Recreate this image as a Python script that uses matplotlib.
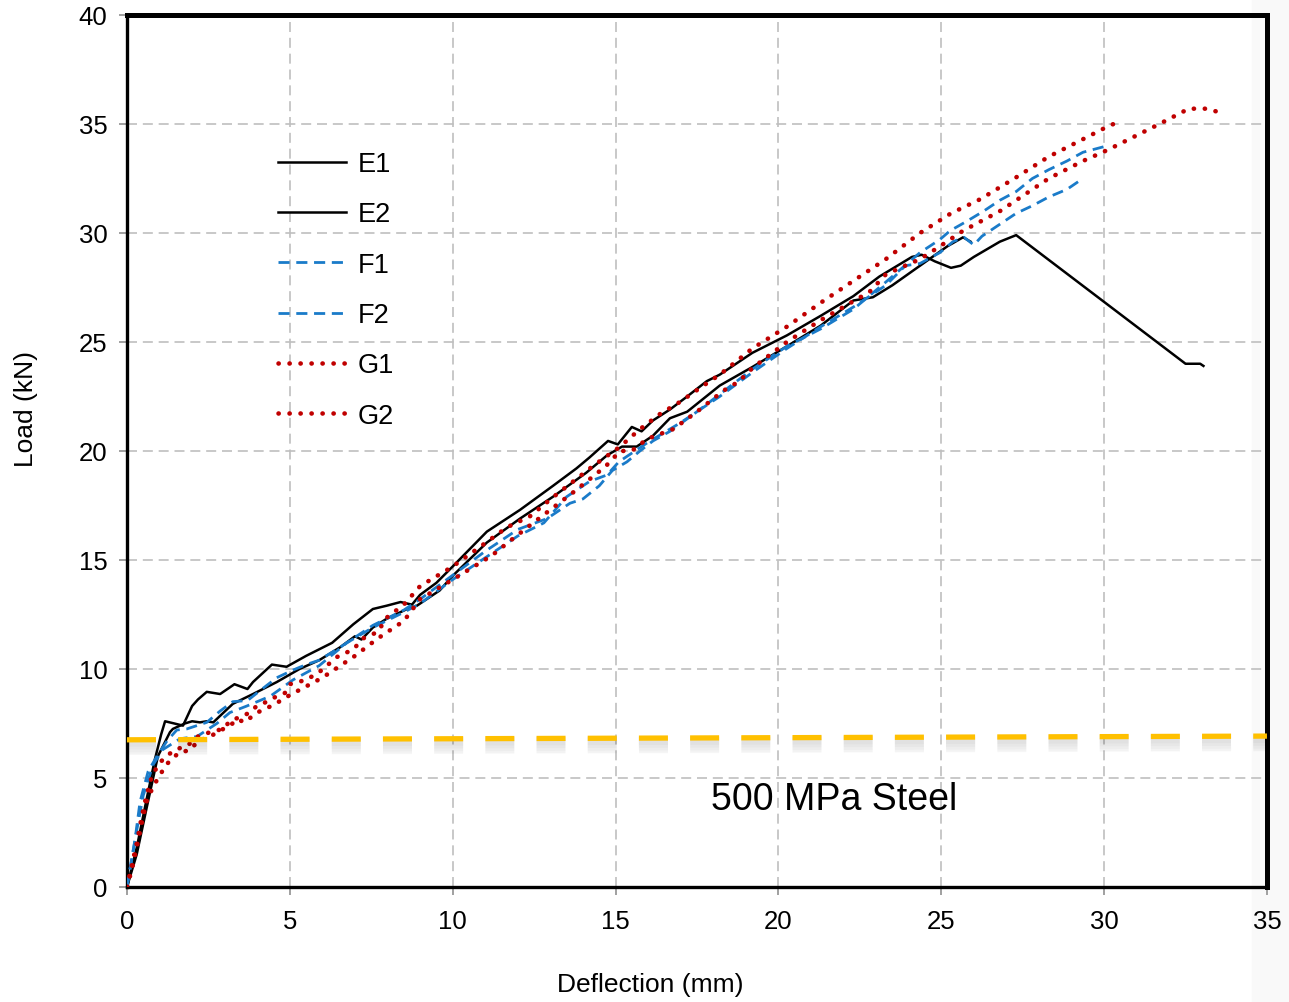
import matplotlib
matplotlib.use('Agg')
import matplotlib.pyplot as plt
from matplotlib import patheffects
from matplotlib.patches import Rectangle

plt.rcParams['font.family'] = ['Liberation Sans', 'DejaVu Sans']

# load-deflection records, deflection in mm, load in kN
e1_x = [0, 0.3, 0.6, 0.86, 1.05, 1.17, 1.45, 1.72, 2.0, 2.18, 2.45, 2.86, 3.3, 3.7, 3.87,
        4.45, 4.9, 5.5, 6.3, 6.95, 7.55, 7.97, 8.4, 8.75, 9.0, 9.5, 10.0, 11.05, 12.07,
        13.08, 13.8, 14.2, 14.77, 15.07, 15.5, 15.8, 16.15, 16.67, 17.2, 17.8, 18.2, 19.2,
        20.26, 21.3, 22.3, 23.1, 24.1, 24.4, 24.8, 25.3, 25.6, 26.0, 26.8, 27.3, 32.5,
        32.95, 33.05]
e1_y = [0, 1.8, 4.0, 5.87, 7.0, 7.6, 7.5, 7.4, 8.3, 8.6, 8.95, 8.85, 9.3, 9.08, 9.4,
        10.2, 10.1, 10.6, 11.2, 12.05, 12.75, 12.9, 13.07, 12.95, 13.4, 13.95, 14.7, 16.3,
        17.3, 18.4, 19.2, 19.7, 20.46, 20.3, 21.1, 20.9, 21.4, 21.9, 22.5, 23.2, 23.5, 24.5,
        25.3, 26.2, 27.1, 28.0, 28.9, 29.0, 28.7, 28.4, 28.5, 28.9, 29.6, 29.9, 24.0,
        24.0, 23.9]

e2_x = [0, 0.3, 0.6, 0.95, 1.32, 1.41, 1.78, 2.0, 2.24, 2.45, 2.65, 2.86, 3.25, 3.87, 4.6,
        5.3, 5.9, 6.55, 7.0, 7.2, 7.55, 7.97, 8.6, 8.9, 9.6, 10.0, 11.05, 12.07, 13.08,
        14.1, 14.74, 15.2, 15.65, 16.15, 16.67, 17.2, 18.2, 19.2, 20.26, 21.3, 22.3, 22.9,
        23.5, 24.35, 25.2, 25.67, 25.9]
e2_y = [0, 1.5, 3.6, 6.0, 7.1, 7.25, 7.5, 7.6, 7.55, 7.6, 7.55, 7.85, 8.4, 8.85, 9.4,
        10.0, 10.4, 11.0, 11.5, 11.35, 11.9, 12.3, 12.75, 12.9, 13.6, 14.27, 15.8, 16.9, 17.9,
        19.0, 19.8, 20.2, 20.2, 20.7, 21.5, 21.8, 23.0, 23.85, 24.8, 25.75, 26.9, 27.05,
        27.6, 28.5, 29.4, 29.8, 29.6]

f1_x = [0, 0.25, 0.4, 0.65, 0.92, 1.23, 1.53, 1.84, 2.45, 2.86, 3.25, 3.7, 4.08, 4.6, 5.1,
        5.5, 5.9, 6.55, 6.95, 7.55, 8.5, 9.0, 10.0, 11.0, 12.0, 12.9, 13.6, 14.0, 14.5,
        14.9, 15.35, 15.75, 16.15, 16.67, 17.5, 18.2, 19.2, 20.26, 21.3, 22.3, 23.3, 24.35,
        24.96, 25.27, 25.8, 26.3, 26.8, 27.3, 27.8, 28.3, 28.86, 29.35, 30.1]
f1_y = [0, 2.2, 3.9, 5.3, 6.0, 6.7, 7.2, 7.25, 7.55, 8.07, 8.5, 8.55, 9.0, 9.6, 9.95,
        10.2, 10.4, 11.0, 11.4, 12.0, 12.7, 13.2, 14.3, 15.4, 16.4, 16.9, 17.6, 17.8, 18.4,
        19.1, 19.5, 20.0, 20.46, 20.9, 21.8, 22.6, 23.75, 24.8, 25.6, 26.5, 27.75, 29.1,
        29.7, 30.1, 30.55, 31.0, 31.5, 31.9, 32.5, 32.9, 33.3, 33.7, 34.0]

f2_x = [0, 0.3, 0.5, 0.8, 1.1, 1.63, 2.15, 2.76, 3.16, 3.68, 4.4, 5.1, 5.9, 6.75, 7.55,
        8.5, 9.0, 10.0, 11.0, 12.0, 12.8, 13.5, 14.2, 14.74, 15.1, 16.0, 17.0, 18.2, 19.2,
        20.26, 21.3, 22.3, 23.3, 23.9, 24.35, 24.96, 25.36, 25.7, 26.0, 26.25, 26.8, 27.3,
        27.8, 28.3, 28.86, 29.35]
f2_y = [0, 2.6, 4.2, 5.6, 6.3, 6.8, 6.9, 7.5, 8.0, 8.3, 8.75, 9.5, 10.15, 11.2, 11.9,
        12.6, 13.0, 14.1, 15.1, 16.1, 16.7, 17.9, 18.6, 18.9, 19.5, 20.4, 21.3, 22.5, 23.6,
        24.7, 25.7, 26.6, 27.6, 28.5, 28.6, 29.1, 29.6, 29.8, 29.45, 29.85, 30.4, 30.9,
        31.25, 31.65, 32.0, 32.5]

g1_x = [0, 0.15, 0.3, 0.45, 0.6, 0.75, 0.95, 1.2, 1.5, 1.87, 2.18, 2.55, 2.95, 3.16, 3.47,
        3.78, 3.98, 4.3, 4.6, 4.85, 5.0, 5.5, 5.9, 6.45, 6.95, 7.25, 7.7, 7.97, 8.5, 9.0,
        10.0, 10.84, 11.67, 12.37, 13.1, 13.7, 14.3, 15.14, 15.75, 16.37, 16.98, 17.7, 18.2,
        19.2, 20.26, 21.3, 22.3, 23.3, 24.35, 25.3, 26.2, 27.3, 28.3, 29.35, 29.87, 30.2,
        30.5]
g1_y = [0, 1.0, 2.0, 3.2, 4.2, 5.0, 5.6, 6.0, 6.3, 6.5, 6.9, 7.1, 7.25, 7.6, 7.8,
        8.0, 8.3, 8.5, 8.75, 8.9, 9.3, 9.5, 9.85, 10.55, 10.9, 11.4, 11.7, 12.35, 12.95, 13.8,
        14.7, 15.6, 16.5, 17.0, 17.9, 18.6, 19.3, 20.2, 21.0, 21.7, 22.25, 23.0, 23.5,
        24.7, 25.7, 26.8, 27.8, 28.8, 30.0, 30.9, 31.55, 32.55, 33.5, 34.3, 34.7, 34.95,
        35.1]

g2_x = [0, 0.15, 0.3, 0.45, 0.6, 0.8, 1.0, 1.2, 1.4, 1.63, 1.9, 2.2, 2.55, 2.9, 3.2,
        3.4, 3.6, 4.0, 4.5, 5.0, 5.5, 6.0, 6.5, 7.0, 7.7, 8.5, 9.0, 10.0, 11.2, 11.7, 12.47,
        13.7, 14.2, 14.7, 15.14, 15.5, 15.97, 16.77, 17.5, 18.3, 18.8, 19.2, 20.26, 21.3,
        22.8, 23.3, 24.35, 24.87, 25.67, 26.8, 27.3, 28.3, 29.35, 30.1, 30.9, 31.7, 32.6,
        33.15, 33.5]
g2_y = [0, 0.8, 1.8, 2.9, 3.9, 4.6, 5.1, 5.6, 5.9, 6.2, 6.25, 6.7, 6.9, 7.2, 7.45,
        7.7, 7.55, 8.0, 8.35, 8.8, 9.2, 9.6, 10.1, 10.6, 11.4, 12.2, 13.2, 14.1, 15.2, 15.8,
        16.7, 18.1, 18.7, 19.3, 20.0, 20.0, 20.55, 21.0, 21.8, 22.75, 23.2, 23.8, 25.0, 26.0,
        27.3, 28.1, 28.8, 29.3, 30.1, 31.0, 31.5, 32.5, 33.3, 33.8, 34.4, 35.0, 35.7,
        35.7, 35.55]

# yield load of the 500 MPa steel reinforcement
steel_x = [0, 35]
steel_y = [6.75, 6.92]
steel_label = '500 MPa Steel'

x_ticks = [0, 5, 10, 15, 20, 25, 30, 35]
y_ticks = [0, 5, 10, 15, 20, 25, 30, 35, 40]

BLUE = '#1a7bc9'
RED = '#c00000'

fig = plt.figure(figsize=(12.89, 10.03), dpi=100)
fig.patches.append(Rectangle((1252 / 1289, 0), 37 / 1289, 1, transform=fig.transFigure,
                             color='#f9f9f9', zorder=-10))
ax = fig.add_axes([0.0985, 0.1147, 0.8844, 0.8694])
ax.set_facecolor('none')

ax.plot(e1_x, e1_y, color='black', lw=1.8, label='E1', zorder=3)
ax.plot(e2_x, e2_y, color='black', lw=1.8, label='E2', zorder=3)
ax.plot(f1_x, f1_y, color=BLUE, lw=2.0, linestyle=(0, (4, 2.4)), label='F1', zorder=4)
ax.plot(f2_x, f2_y, color=BLUE, lw=2.0, linestyle=(0, (4, 2.4)), label='F2', zorder=4)
ax.plot(g1_x, g1_y, color=RED, lw=3.3, linestyle=(0, (0.05, 2.35)),
        dash_capstyle='round', label='G1', zorder=5)
ax.plot(g2_x, g2_y, color=RED, lw=3.3, linestyle=(0, (0.05, 2.35)),
        dash_capstyle='round', label='G2', zorder=5)

# soft grey drop shadow under the steel line
shadow = [patheffects.SimpleLineShadow(offset=(0, -d), shadow_color='black',
                                       alpha=0.025, linewidth=w)
          for d, w in ((2, 6), (3, 8), (4, 10), (5, 12), (6, 9))]
ax.plot(steel_x, steel_y, color='#ffc000', lw=3.8, linestyle=(0, (5.5, 4.2)),
        path_effects=shadow + [patheffects.Normal()], zorder=6, clip_on=False)
ax.text(21.7, 4.04, steel_label, fontsize=27, ha='center', va='center', zorder=7)

ax.set_xlim(0, 35)
ax.set_ylim(0, 40)
ax.set_xticks(x_ticks)
ax.set_yticks(y_ticks)
ax.grid(True, color='#bfbfbf', linestyle=(0, (6, 3.5)), linewidth=1.2)
ax.set_axisbelow(True)
ax.tick_params(colors='#999999', labelcolor='black', labelsize=18.5,
               length=6, width=1.3, direction='out')
ax.tick_params(axis='y', pad=8)
ax.tick_params(axis='x', pad=10)

for side in ('left', 'bottom'):
    ax.spines[side].set_color('black')
    ax.spines[side].set_linewidth(2.4)
for side in ('top', 'right'):
    ax.spines[side].set_color('black')
    ax.spines[side].set_linewidth(3.6)

ax.set_xlabel('Deflection (mm)', fontsize=19)
ax.xaxis.set_label_coords(0.459, -0.097)
ax.set_ylabel('Load (kN)', fontsize=19)
ax.yaxis.set_label_coords(-0.078, 0.549)

ax.legend(loc='upper left', bbox_to_anchor=(0.1325, 0.844), frameon=False,
          fontsize=19.5, handlelength=2.5, handletextpad=0.45, labelspacing=0.9,
          borderpad=0, borderaxespad=0)

fig.savefig('out.png', dpi=100)
